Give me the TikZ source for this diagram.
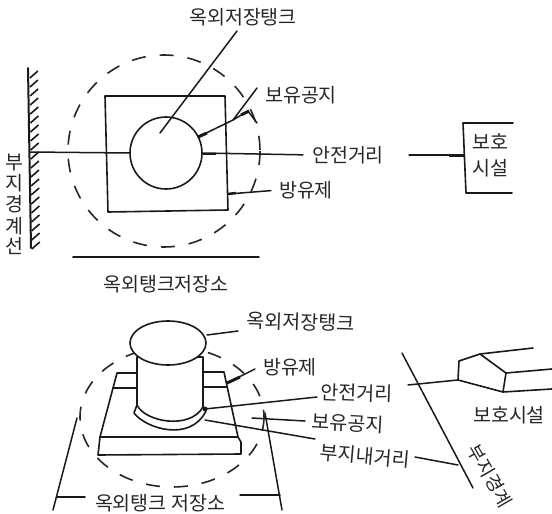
\documentclass[tikz,border=0pt]{standalone}
\usepackage{fontspec}
\usetikzlibrary{shapes.geometric}
\setmainfont{Noto Sans CJK KR}[Scale=1]
\begin{document}
\begin{tikzpicture}[x=1pt,y=-1pt,line join=round,
 ln/.style={draw=black!90,line width=1.6pt,line cap=round},
 lead/.style={draw=black!90,line width=1.5pt,line cap=round},
 dsh/.style={draw=black!85,line width=1.6pt,dash pattern=on 14pt off 14pt},
 lbl/.style={font=\fontsize{19.5}{22}\selectfont,inner sep=0pt,text=black!85,align=center},
 vert/.style={font=\fontsize{19.5}{22}\selectfont,inner sep=0pt,text=black!85}]
\useasboundingbox (0,0) rectangle (552,514);
% ---- top view
\draw[dsh] (164,151) circle (96);
\draw[ln] (105,96) -- (225,96) -- (228,210) -- (108,212) -- cycle;
\node[circle,draw=black!90,line width=1.6pt,minimum size=72pt,inner sep=0pt] (tank) at (166,153) {};
\coordinate (wt) at (28,68); \coordinate (wb) at (31,248);
\draw[ln,line width=2pt] (wt) -- (wb);
\foreach \y in {78,87,...,249}{\draw[line width=1.6pt,black!90] (29+\y/90,\y) -- (37+\y/90,\y-7);}
\node[lbl] (t1) at (243,17) {옥외저장탱크};
\node[lbl] (t2) at (301,95) {보유공지};
\node[lbl] (t3) at (348,155) {안전거리};
\node[lbl] (t4) at (306,190) {방유제};
\node[lbl] (t5) at (166,284) {옥외탱크저장소};
\node[lbl,anchor=west] (t6) at (472,142) {보호};
\node[lbl,anchor=west] (t7) at (472,168) {시설};
\foreach \c/\y/\n in {부/163/v1,지/183/v2,경/204/v3,계/226/v4,선/246/v5}{\node[vert] (\n) at (14,\y) {\c};}
\coordinate (wm) at (30,152);
\draw[lead] (wm) -- (tank.west);
\coordinate (a1) at (237,31); \coordinate (a2) at (160,133);
\draw[lead] (a1) -- (a2);
\coordinate (b1) at (198,137); \coordinate (b2) at (233,120); \coordinate (b3) at (257,88);
\draw[lead] (b1) -- (b2) -- (b3);
\draw[line width=3pt,black!90] (198,137) -- (207,133);
\draw[lead] (233,120) -- (248,111) -- (257,123);
\draw[line width=3pt,black!90] (241,115) -- (249,111);
\coordinate (c1) at (tank.east);
\draw[lead,shorten >=9pt] (c1) -- (t3.west);
\draw[line width=2.5pt,black!90] (203,154) -- (216,154);
\coordinate (d1) at (228,194);
\draw[lead,shorten >=8pt] (d1) -- (t4.west);
\draw[line width=2.5pt,black!90] (228,194) -- (236,193);
\draw[ln,line width=1.8pt] (73,257) -- (259,257);
\coordinate (e1) at (464,155);
\draw[lead] (t3.east) ++(25,0) -- (e1);
\draw[line width=3pt,black!90] (449,155) -- (464,155);
\draw[ln] (513,123) -- (463,123) -- (466,193) -- (512,193);
% ---- perspective view
\draw[dsh] (172,417) ellipse (92 and 70);
\draw[ln] (100,437) -- (117,373) -- (137,373);
\draw[ln] (203,372) -- (224,372) -- (238,437);
\draw[ln] (113,388) -- (137,388);
\draw[ln] (203,387) -- (227,387);
\draw[ln] (100,437) -- (238,437) -- (241,442) -- (241,454) -- (98,455) -- cycle;
\draw[ln,fill=white] (137,357) -- (137,405) .. controls (145,422) and (190,430) .. (203,407) -- (203,357) -- cycle;
\node[ellipse,draw=black!90,fill=white,line width=1.6pt,minimum width=76pt,minimum height=44pt,inner sep=0pt] at (168,343) (top) {};
\draw[ln] (137,405) -- (134,413) .. controls (145,428) and (190,443) .. (206,411) -- (203,407);
\fill[black!90] (205,409) circle (2.5);
\node[lbl,rotate=-2] (u1) at (301,322) {옥외저장탱크};
\node[lbl] (u2) at (290,367) {방유제};
\node[lbl,rotate=-2] (u3) at (357,393) {안전거리};
\node[lbl,rotate=-3] (u4) at (348,423) {보유공지};
\node[lbl,rotate=-5] (u5) at (365,456) {부지내거리};
\node[lbl] (u6) at (509,415) {보호시설};
\node[lbl,rotate=-60,font=\fontsize{18.5}{21}\selectfont] (u7) at (490,476) {부지경계};
\node[lbl] (u8) at (160,503) {옥외탱크 저장소};
\coordinate (f1) at (207,335); \draw[lead] (f1) -- (238,331);
\coordinate (g1) at (227,383); \coordinate (g2) at (255,369); \draw[lead] (g1) -- (g2);
\draw[line width=3pt,black!90] (227,383) -- (240,377);
\coordinate (h1) at (205,409); \coordinate (h2) at (317,397); \draw[lead] (h1) -- (h2);
\coordinate (i1) at (252,418); \coordinate (i2) at (305,421); \draw[lead] (i1) -- (i2);
\coordinate (j1) at (205,420); \coordinate (j2) at (315,439); \draw[lead] (j1) -- (j2);
\coordinate (k1) at (415,457); \coordinate (k2) at (458,465); \draw[lead] (k1) -- (k2);
\coordinate (m1) at (402,353); \coordinate (m2) at (473,488); \draw[lead] (m1) -- (m2);
\coordinate (n1) at (408,385); \coordinate (n2) at (458,380); \draw[lead] (n1) -- (n2);
\draw[ln] (n2) -- (459,361) -- (480,354) -- (533,348);
\draw[ln] (480,354) -- (506,373) -- (552,369);
\draw[ln] (506,373) -- (503,392) -- (552,389);
\draw[ln] (n2) -- (503,392);
\coordinate (p1) at (77,418); \coordinate (p2) at (53,510); \coordinate (p3) at (57,497); \coordinate (p4) at (85,497);
\draw[lead] (p1) -- (p2); \draw[lead] (p3) -- (p4);
\coordinate (q1) at (265,413); \coordinate (q2) at (282,510); \coordinate (q3) at (240,495); \coordinate (q4) at (280,495);
\draw[lead] (q1) -- (q2); \draw[lead] (q3) -- (q4);
\end{tikzpicture}
\end{document}
